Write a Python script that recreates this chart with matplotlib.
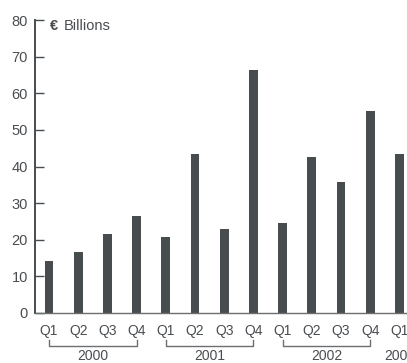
"""
Quarterly volume bar chart, euro billions, 2000-2003.
"""

import matplotlib
matplotlib.use('Agg')
import matplotlib.pyplot as plt
import matplotlib.transforms as mtransforms

# Data
QUARTERS = ['Q1', 'Q2', 'Q3', 'Q4', 'Q1', 'Q2', 'Q3', 'Q4', 'Q1', 'Q2', 'Q3', 'Q4', 'Q1']
YEARS = ['2000', '2001', '2002', '2003']
YEAR_SPANS = [(0, 3), (4, 7), (8, 11), (12, 12)]
VALUES = [14.1, 16.6, 21.5, 26.4, 20.7, 43.4, 22.9, 66.4, 24.5, 42.7, 35.9, 55.2, 43.5]

BAR_COLOR = '#474c4f'
TEXT_COLOR = '#4a4d50'

plt.rcParams['font.family'] = ['Liberation Sans', 'DejaVu Sans']
plt.rcParams['font.size'] = 10

W, H = 407, 363
fig = plt.figure(figsize=(W / 100, H / 100), dpi=100)

# axes placed in pixel terms: spine at x=35, baseline at y=313, 80 at y=20
left, right, top, bottom = 35, 407, 20, 313
ax = fig.add_axes([left / W, 1 - bottom / H, (right - left) / W, (bottom - top) / H])

x = list(range(len(VALUES)))
ax.bar(x, VALUES, width=0.3, color=BAR_COLOR)

ax.set_ylim(0, 80)
ax.set_xlim(-0.48, 12.26)
ax.set_yticks(range(0, 81, 10))
ax.tick_params(axis='y', direction='in', length=6.5, width=1.0, pad=5,
               colors=BAR_COLOR, labelcolor=TEXT_COLOR, labelsize=10.5)

ax.set_xticks(x)
ax.set_xticklabels(QUARTERS)
ax.tick_params(axis='x', length=0, pad=8, labelcolor=TEXT_COLOR, labelsize=10)

for side in ['top', 'right']:
    ax.spines[side].set_visible(False)
ax.spines['left'].set_color(BAR_COLOR)
ax.spines['left'].set_linewidth(1.4)
ax.spines['bottom'].set_color('#6b6f72')
ax.spines['bottom'].set_linewidth(1.0)

# unit label at the top of the axis
ax.text(0.04, 78.3, '€', fontweight='bold', fontsize=10.5, color=TEXT_COLOR,
        va='center', ha='left')
ax.text(0.5, 78.3, 'Billions', fontsize=10.5, color=TEXT_COLOR, va='center', ha='left')

# year brackets under the quarter labels
trans = mtransforms.blended_transform_factory(ax.transData, fig.transFigure)
y_line = 1 - 346 / H
y_end = 1 - 340 / H
y_year = 1 - 356 / H
for year, (i0, i1) in zip(YEARS, YEAR_SPANS):
    if i1 > i0:
        ax.plot([i0, i0, i1, i1], [y_end, y_line, y_line, y_end], transform=trans,
                color='#6b6f72', linewidth=1.0, clip_on=False)
    ax.text((i0 + i1) / 2, y_year, year, transform=trans, ha='center', va='center',
            fontsize=10, color=TEXT_COLOR, clip_on=False)

plt.savefig('out.png', dpi=100)
plt.close()
